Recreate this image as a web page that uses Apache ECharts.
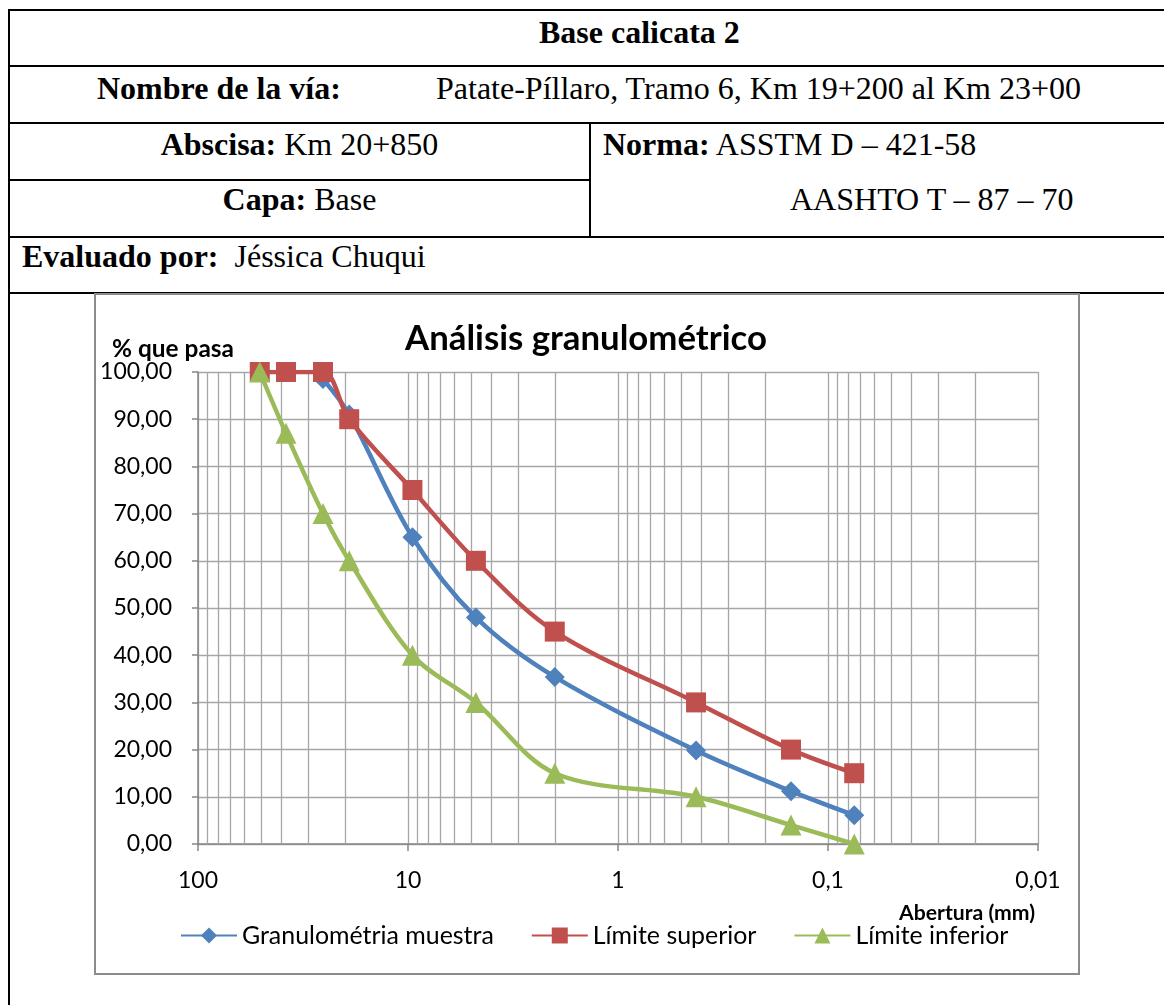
<!DOCTYPE html>
<html>
<head>
<meta charset="utf-8">
<script src="https://cdn.jsdelivr.net/npm/echarts@6/dist/echarts.min.js"></script>
<style>
html,body{margin:0;padding:0;background:#fff;width:1164px;height:1005px;overflow:hidden;}
.ln{position:absolute;background:#000;}
.t{position:absolute;font-family:"Liberation Serif","Times New Roman",serif;font-size:32px;line-height:32px;white-space:nowrap;color:#000;}
.t b{font-weight:bold;}
#box{position:absolute;left:94px;top:293px;width:982px;height:678px;border:2px solid #8c8c8c;box-sizing:content-box;}
#chart{position:absolute;left:0;top:0;width:1164px;height:1005px;}
</style>
</head>
<body>
<!-- table lines -->
<div class="ln" style="left:8px;top:9px;width:1156px;height:2px"></div>
<div class="ln" style="left:8px;top:65px;width:1156px;height:2px"></div>
<div class="ln" style="left:8px;top:122px;width:1156px;height:2px"></div>
<div class="ln" style="left:8px;top:179px;width:582px;height:2px"></div>
<div class="ln" style="left:8px;top:236px;width:1156px;height:2px"></div>
<div class="ln" style="left:8px;top:292px;width:1156px;height:2px"></div>
<div class="ln" style="left:8px;top:9px;width:2px;height:996px"></div>
<div class="ln" style="left:589px;top:122px;width:2px;height:116px"></div>

<div class="t" style="left:539px;top:16px"><b>Base calicata 2</b></div>
<div class="t" style="left:97px;top:72px"><b>Nombre de la vía:</b></div>
<div class="t" style="left:436px;top:72px">Patate-Píllaro, Tramo 6, Km 19+200 al Km 23+00</div>
<div class="t" style="left:10px;width:579px;text-align:center;top:128px"><b>Abscisa:</b> Km 20+850</div>
<div class="t" style="left:603px;top:128px"><b>Norma:</b> ASSTM D – 421-58</div>
<div class="t" style="left:10px;width:579px;text-align:center;top:183px"><b>Capa:</b> Base</div>
<div class="t" style="left:790px;top:183px">AASHTO T – 87 – 70</div>
<div class="t" style="left:22px;top:240px"><b>Evaluado por:</b>&nbsp; Jéssica Chuqui</div>

<div id="box"></div>
<div id="chart"></div>

<script>
// ---- data ----
const sieveSizes = [50.8, 38.1, 25.4, 19.05, 9.525, 4.75, 2.0, 0.425, 0.15, 0.075];
const granulometriaMuestra = [null, null, 98.5, 91, 65, 48, 35.4, 19.8, 11.2, 6.1];
const limiteSuperior = [100, 100, 100, 90, 75, 60, 45, 30, 20, 15];
const limiteInferior = [100, 87, 70, 60, 40, 30, 15, 10, 4, 0];
const seriesNames = ['Granulométria muestra', 'Límite superior', 'Límite inferior'];
const chartTitle = 'Análisis granulométrico';
const yAxisTitle = '% que pasa';
const xAxisTitle = 'Abertura (mm)';
const minorDecades = [10, 1, 0.1, 0.01];
const minorSteps = [2, 3, 4, 5, 6, 7, 8, 9];

// ---- helpers ----
const ctx = document.createElement('canvas').getContext('2d');
const FF = 'Lato';
function fit(text, weight, width) {
  ctx.font = weight + ' 100px ' + FF;
  return 100 * width / ctx.measureText(text).width;
}
const titleSize = fit(chartTitle, 'bold', 362);
const tickSize = fit('100,00', 'normal', 72);
const yNameSize = fit(yAxisTitle, 'bold', 122);
const xNameSize = fit(xAxisTitle, 'bold', 136);
const legendSize = fit(seriesNames[0], 'normal', 252);

function pairs(arr) {
  const out = [];
  sieveSizes.forEach((s, i) => { if (arr[i] !== null) out.push([s, arr[i]]); });
  return out;
}
const minorGrid = [];
minorDecades.forEach(d => minorSteps.forEach(m => minorGrid.push({ xAxis: +(d * m).toPrecision(6) })));

const colors = ['#4F81BD', '#C0504D', '#9BBB59'];
const symbols = ['diamond', 'rect', 'triangle'];
const sizes = [20, 20, 21];
const seriesData = [granulometriaMuestra, limiteSuperior, limiteInferior];

const grid = { left: 198, top: 372, width: 840, height: 472 };
const gridColor = '#a6a6a6';
const axisColor = '#868686';

const series = [{
  name: '_minor', type: 'line', data: [], z: 0, silent: true,
  markLine: {
    silent: true, symbol: 'none', z: 1, animation: false,
    label: { show: false },
    lineStyle: { type: 'solid', color: gridColor, width: 1.3 },
    emphasis: { disabled: true },
    data: minorGrid
  }
}];
seriesNames.forEach((name, i) => {
  series.push({
    name: name, type: 'line', z: 3 + i,
    data: pairs(seriesData[i]),
    smooth: 0.33,
    symbol: symbols[i], symbolSize: sizes[i],
    lineStyle: { color: colors[i], width: 4.5 },
    itemStyle: { color: colors[i], borderWidth: 0 },
    clip: true
  });
});

const chart = echarts.init(document.getElementById('chart'), null, { renderer: 'canvas' });
chart.setOption({
  animation: false,
  backgroundColor: 'transparent',
  grid: grid,
  legend: {
    data: seriesNames, left: 180, top: 923, padding: 0,
    itemWidth: 56, itemHeight: 20, itemGap: 37,
    textStyle: { fontFamily: FF, fontSize: legendSize, color: '#000' }
  },
  xAxis: {
    type: 'log', logBase: 10, min: 0.01, max: 100, inverse: true,
    axisLine: { show: true, lineStyle: { color: axisColor, width: 1.5 } },
    axisTick: { show: true, length: 7, lineStyle: { color: axisColor, width: 1.5 } },
    axisLabel: {
      margin: 25, fontFamily: FF, fontSize: tickSize, color: '#000', lineHeight: tickSize,
      formatter: v => String(+(+v).toPrecision(6)).replace('.', ',')
    },
    splitLine: { show: true, lineStyle: { color: gridColor, width: 1.3 } },
    minorSplitLine: { show: false }
  },
  yAxis: {
    type: 'value', min: 0, max: 100, interval: 10,
    axisLine: { show: true, lineStyle: { color: axisColor, width: 1.5 } },
    axisTick: { show: true, length: 6, lineStyle: { color: axisColor, width: 1.5 } },
    axisLabel: {
      margin: 26, fontFamily: FF, fontSize: tickSize, color: '#000',
      formatter: v => v.toFixed(2).replace('.', ',')
    },
    splitLine: { show: true, lineStyle: { color: gridColor, width: 1.3 } }
  },
  graphic: [
    { type: 'text', x: 586, y: 352 - 0.38 * titleSize, silent: true,
      style: { text: chartTitle, fontFamily: FF, fontWeight: 'bold', fontSize: titleSize, fill: '#000', align: 'center', verticalAlign: 'middle' } },
    { type: 'text', x: 112, y: 358 - 0.38 * yNameSize, silent: true,
      style: { text: yAxisTitle, fontFamily: FF, fontWeight: 'bold', fontSize: yNameSize, fill: '#000', align: 'left', verticalAlign: 'middle' } },
    { type: 'text', x: 1035, y: 921 - 0.38 * xNameSize, silent: true,
      style: { text: xAxisTitle, fontFamily: FF, fontWeight: 'bold', fontSize: xNameSize, fill: '#000', align: 'right', verticalAlign: 'middle' } }
  ],
  series: series
});
</script>
</body>
</html>
